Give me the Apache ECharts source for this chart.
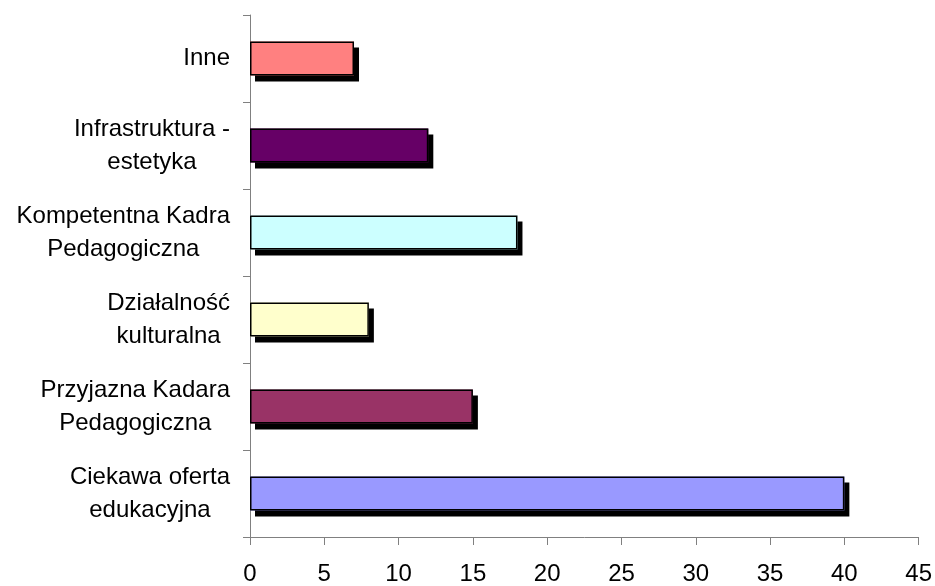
<!DOCTYPE html>
<html><head><meta charset="utf-8">
<script src="https://cdn.jsdelivr.net/npm/echarts@6/dist/echarts.min.js"></script>
<style>html,body{margin:0;padding:0;background:#fff}#c{width:935px;height:586px}</style>
</head><body><div id="c"></div>
<script>
// bottom to top
var categories = ["Ciekawa oferta\nedukacyjna","Przyjazna Kadara\nPedagogiczna","Działalność\nkulturalna","Kompetentna Kadra\nPedagogiczna","Infrastruktura -\nestetyka","Inne"];
var values = [40, 15, 8, 18, 12, 7];
var colors = ["#9999FF","#993366","#FFFFCC","#CCFFFF","#660066","#FF8080"];
var xTicks = [0,5,10,15,20,25,30,35,40,45];

var chart = echarts.init(document.getElementById('c'));
chart.setOption({
  animation:false,
  grid:{left:250,right:14,top:15,bottom:46},
  xAxis:{type:'value',min:0,max:45,interval:5,
    axisLine:{show:true,lineStyle:{color:'#808080',width:1}},
    axisTick:{show:true,length:8,lineStyle:{color:'#808080'}},
    splitLine:{show:false},
    axisLabel:{color:'#000',fontFamily:'Liberation Sans, Arial',fontSize:24,margin:25,
      formatter:function(v){return xTicks.indexOf(v)>=0?String(v):'';}}},
  yAxis:{type:'category',data:categories,
    axisLine:{show:true,lineStyle:{color:'#808080',width:1}},
    axisTick:{show:true,length:7,lineStyle:{color:'#808080'}},
    axisLabel:{margin:20,align:'right',
      formatter:function(v){return v.split('\n').map(function(l){return '{a|'+l+'}';}).join('\n');},
      rich:{a:{color:'#000',fontFamily:'Liberation Sans, Arial',fontSize:24,lineHeight:33,align:'center'}}}},
  series:[
    {type:'bar',barWidth:34,
      data:values.map(function(v,i){return {value:v,itemStyle:{color:colors[i]}};}),
      itemStyle:{borderWidth:0,shadowColor:'#000',shadowBlur:0,shadowOffsetX:5,shadowOffsetY:6}},
    {type:'bar',barWidth:34,barGap:'-100%',silent:true,
      data:values,
      itemStyle:{color:'rgba(0,0,0,0)',borderColor:'#000',borderWidth:1.5}}
  ]
});
</script></body></html>
